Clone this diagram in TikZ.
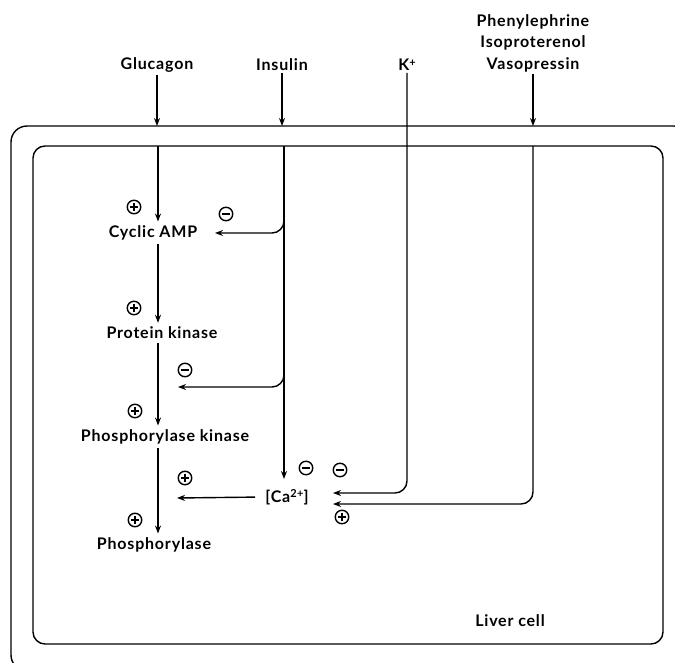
\documentclass[tikz,border=0pt]{standalone}
\usepackage{fontspec}
\setmainfont{Lato}[LetterSpace=5]
\usetikzlibrary{arrows.meta}
\newcommand{\supr}[1]{\raisebox{0.55ex}{\fontsize{11}{11}\selectfont\bfseries #1}}
\begin{document}
\begin{tikzpicture}[x=1pt,y=-1pt,
  every node/.style={font=\fontsize{16}{21.5}\selectfont\bfseries},
  lbl/.style={inner sep=2pt},
  conn/.style={line width=1.4pt},
  arr/.style={conn,-{Stealth[length=8pt,width=6pt]}},
  sgn/.style={circle,draw,line width=1.4pt,minimum size=13.5pt,inner sep=0pt},
  pl/.style={sgn,path picture={\draw[line width=1.4pt]
     ([xshift=-4pt]path picture bounding box.center) -- ++(8pt,0pt)
     ([yshift=-4pt]path picture bounding box.center) -- ++(0pt,8pt);}},
  mi/.style={sgn,path picture={\draw[line width=1.4pt]
     ([xshift=-4pt]path picture bounding box.center) -- ++(8pt,0pt);}}
]
\useasboundingbox (0,0) rectangle (675,663);
% cell boxes
\begin{scope}
  \clip (0,0) rectangle (675,663);
  \draw[conn,rounded corners=16] (11,126) rectangle (690,671);
\end{scope}
\draw[conn,rounded corners=12] (33,146) rectangle (663,644);

% top labels
\node[lbl] (glu) at (157,65) {Glucagon};
\node[lbl] (ins) at (282,65) {Insulin};
\node[lbl] (kp) at (407,65) {K\supr{+}};
\node[lbl,align=center] (phe) at (533,43) {Phenylephrine\\Isoproterenol\\Vasopressin};

% coordinates on membranes
\coordinate (gluO) at (157,126);
\coordinate (gluI) at (157,146);
\coordinate (insO) at (282,126);
\coordinate (insI) at (284,146);
\coordinate (pheO) at (533,126);
\coordinate (pheI) at (533,146);
\coordinate (ax) at (158,0);

% chain nodes
\node[lbl] (camp) at (153,233) {Cyclic AMP};
\node[lbl] (pk) at (162,333) {Protein kinase};
\node[lbl] (phk) at (165,437) {Phosphorylase kinase};
\node[lbl] (ph) at (154,545) {Phosphorylase};
\node[lbl] (ca) at (287,497) {[Ca\supr{2+}]};
\node[lbl] (liver) at (510,621) {Liver cell};

% external arrows
\draw[arr] (glu.south) -- (gluO);
\draw[arr] (ins.south) -- (insO);
\draw[arr] (phe.south) -- (pheO);

% glucagon cascade
\draw[arr] (gluI -| ax) -- ([yshift=2pt]camp.north -| ax);
\draw[arr] ([yshift=-2pt]camp.south -| ax) -- ([yshift=2pt]pk.north -| ax);
\draw[arr] ([yshift=-2pt]pk.south -| ax) -- ([yshift=2pt]phk.north -| ax);
\draw[arr] ([yshift=-2pt]phk.south -| ax) -- ([yshift=2pt]ph.north -| ax);

% insulin
\coordinate (insCa) at (284,479);
\draw[arr] (insI) -- (insCa);
\coordinate (campIn) at (215,233);
\coordinate (b1) at (284,200);
\draw[arr,rounded corners=12] (b1) |- (campIn);
\coordinate (pkIn) at (178,387);
\coordinate (b2) at (284,360);
\draw[arr,rounded corners=12] (b2) |- (pkIn);

% Ca to phosphorylase kinase/phosphorylase
\coordinate (caOut) at (177,498);
\draw[arr,shorten <=8pt] (ca.west) -- (caOut);

% K+ and phenylephrine into Ca
\coordinate (kIn) at (333,493);
\draw[arr,rounded corners=12] (kp.south) |- (kIn);
\coordinate (pIn) at (333,504);
\draw[arr,rounded corners=12] (pheI) |- (pIn);

% signs
\node[pl] (p1) at (134,207) {};
\node[pl] (p2) at (134,308) {};
\node[pl] (p3) at (135,411) {};
\node[pl] (p4) at (185,478) {};
\node[pl] (p5) at (135,520) {};
\node[pl] (p6) at (342,517) {};
\node[mi] (m1) at (226,214) {};
\node[mi] (m2) at (185,370) {};
\node[mi] (m3) at (306,468) {};
\node[mi] (m4) at (340,470) {};
\end{tikzpicture}
\end{document}
